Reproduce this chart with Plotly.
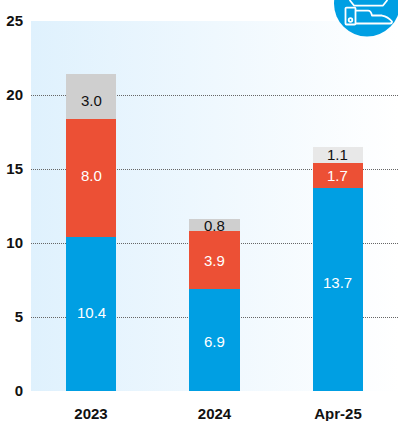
import base64
import plotly.graph_objects as go

categories = ["2023", "2024", "Apr-25"]
blue_values = [10.4, 6.9, 13.7]
red_values = [8.0, 3.9, 1.7]
grey_values = [3.0, 0.8, 1.1]
grey_colors = ["#cfcfcf", "#cfcfcf", "#e8e8e8"]
y_ticks = [0, 5, 10, 15, 20, 25]

BLUE = "#009fe3"
RED = "#ec5035"
W, H = 398, 421
LEFT, RIGHT, TOP, BOTTOM = 31, 398, 20.5, 391.5


def data_uri(svg):
    return "data:image/svg+xml;base64," + base64.b64encode(svg.encode()).decode()


backdrop = """<svg xmlns="http://www.w3.org/2000/svg" width="367" height="371" preserveAspectRatio="none">
<defs><linearGradient id="g" x1="0" x2="1" y1="0" y2="0">
<stop offset="0" stop-color="#dff1fd"/><stop offset="1" stop-color="#ffffff"/>
</linearGradient></defs><rect width="367" height="371" fill="url(#g)"/></svg>"""

# Round badge with a white outline of a hand holding a tray
badge = """<svg xmlns="http://www.w3.org/2000/svg" width="80" height="80" viewBox="0 0 80 80">
<circle cx="40" cy="40" r="33" fill="#009fe3"/>
<g fill="none" stroke="#ffffff" stroke-width="1.8" stroke-linejoin="round" stroke-linecap="round">
<path d="M23 37 L27 42 H56 L60 37"/>
<rect x="18.5" y="44" width="10" height="17" rx="1"/>
<circle cx="23.5" cy="56.5" r="1.8"/>
<path d="M29 47 H41 Q44 47 45 52 H55 Q61 53 65 58 Q65 60 63 60 H29"/>
</g></svg>"""

fig = go.Figure()
for name, vals, color in [
    ("Blue", blue_values, BLUE),
    ("Red", red_values, RED),
    ("Grey", grey_values, grey_colors),
]:
    fig.add_bar(x=list(range(len(categories))), y=vals, name=name,
                marker=dict(color=color, line_width=0), width=0.405)

# Value labels sit at each segment's centre, nudged to their printed positions
label_shift = {
    "blue": [2, -2, 7],
    "red": [2, 0, 0],
    "grey": [-4, 0, 0],
}
annotations = []
for i in range(len(categories)):
    b, r, g = blue_values[i], red_values[i], grey_values[i]
    for val, mid, color, shift in [
        (b, b / 2, "#ffffff", label_shift["blue"][i]),
        (r, b + r / 2, "#ffffff", label_shift["red"][i]),
        (g, b + r + g / 2, "#111111", label_shift["grey"][i]),
    ]:
        annotations.append(dict(x=i, y=mid, xref="x", yref="y", text=f"{val:.1f}",
                                showarrow=False, yshift=shift,
                                font=dict(family="Liberation Sans", size=15, color=color)))

tick_font = dict(family="Liberation Sans", size=15, color="#111111", weight="bold")

fig.update_layout(
    width=W, height=H, showlegend=False, barmode="stack",
    margin=dict(l=LEFT, r=W - RIGHT, t=TOP, b=H - BOTTOM),
    paper_bgcolor="white", plot_bgcolor="rgba(0,0,0,0)",
    annotations=annotations,
    images=[
        dict(source=data_uri(backdrop), xref="paper", yref="paper", x=0, y=1,
             sizex=1, sizey=1, sizing="stretch", xanchor="left", yanchor="top", layer="below"),
        dict(source=data_uri(badge), xref="paper", yref="paper",
             x=(327 - LEFT) / (RIGHT - LEFT), y=(BOTTOM - (-37)) / (BOTTOM - TOP),
             sizex=80 / (RIGHT - LEFT), sizey=80 / (BOTTOM - TOP),
             sizing="stretch", xanchor="left", yanchor="top", layer="above"),
    ],
)
fig.update_xaxes(
    range=[-0.486, 2.486], tickvals=list(range(len(categories))), ticktext=categories,
    showgrid=False, zeroline=False, showline=False, ticks="", ticklen=0,
    ticklabelstandoff=12, tickfont=tick_font,
)
fig.update_yaxes(
    range=[0, 25], tickvals=y_ticks, showgrid=True, gridcolor="#666666", gridwidth=1,
    griddash="1px,1px", zeroline=False, showline=False, ticks="",
    ticklabelstandoff=7, tickfont=tick_font,
)
fig.write_html("out.html", config={"displayModeBar": False})
